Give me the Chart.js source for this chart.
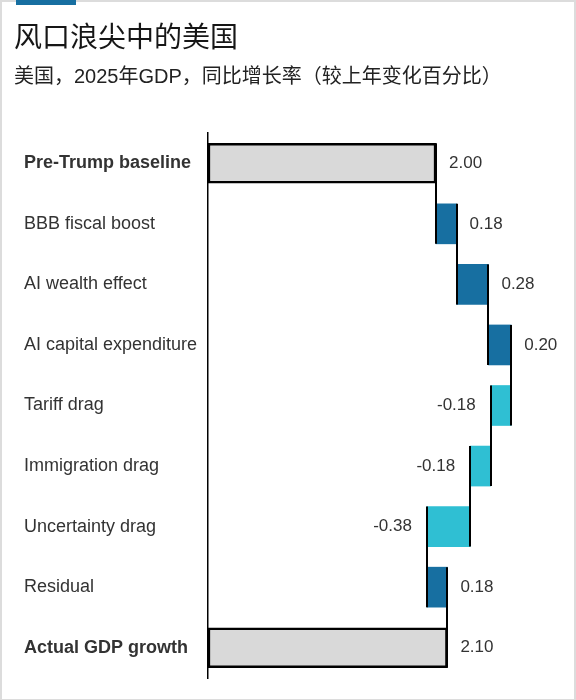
<!DOCTYPE html>
<html>
<head>
<meta charset="utf-8">
<script src="https://cdn.jsdelivr.net/npm/chart.js@4"></script>
<style>
  body { margin: 0; background: #fff; font-family: Arial, "Liberation Sans", "Noto Sans CJK SC", sans-serif; }
  #frame { position: absolute; left: 0; top: 0; width: 572px; height: 697px; border: 2px solid #dcdcdc; }
  #accent { position: absolute; left: 16px; top: 0; width: 60px; height: 5px; background: #176fa1; }
  #title { position: absolute; left: 14px; top: 17px; font-size: 28px; line-height: 36px; color: #161616; font-family: "Noto Sans CJK SC", sans-serif; }
  #subtitle { position: absolute; left: 14px; top: 62px; font-size: 20px; line-height: 28px; color: #222; font-family: Arial, "Liberation Sans", "Noto Sans CJK SC", sans-serif; }
  #wrap { position: absolute; left: 0; top: 0; width: 576px; height: 700px; }
</style>
</head>
<body>
<div id="frame"></div>
<div id="wrap"><canvas id="waterfall"></canvas></div>
<div id="accent"></div>
<div id="title">风口浪尖中的美国</div>
<div id="subtitle">美国，2025年GDP，同比增长率（较上年变化百分比）</div>
<script>
// chart data
const categories = ['Pre-Trump baseline', 'BBB fiscal boost', 'AI wealth effect', 'AI capital expenditure',
    'Tariff drag', 'Immigration drag', 'Uncertainty drag', 'Residual', 'Actual GDP growth'];
const changes = [2.00, 0.18, 0.28, 0.20, -0.18, -0.18, -0.38, 0.18, 2.10];
const isTotal = [true, false, false, false, false, false, false, false, true];

const posColor = '#176fa1';
const negColor = '#2fbfd3';
const totalColor = '#d9d9d9';

// build floating bars [start, end] from the changes
let running = 0;
const ranges = [];
const ends = [];
for (let i = 0; i < changes.length; i++) {
    if (isTotal[i]) {
        ranges.push([0, changes[i]]);
        running = changes[i];
    } else {
        ranges.push([running, running + changes[i]]);
        running += changes[i];
    }
    ends.push(running);
}

const barColors = changes.map((v, i) => isTotal[i] ? totalColor : (v >= 0 ? posColor : negColor));

// vertical connectors + value labels
const waterfallExtras = {
    id: 'waterfallExtras',
    afterDatasetsDraw(chart) {
        const ctx = chart.ctx;
        const xScale = chart.scales.x;
        const bars = chart.getDatasetMeta(0).data;
        ctx.save();
        ctx.strokeStyle = '#000';
        ctx.lineWidth = 2;
        for (let i = 0; i < bars.length - 1; i++) {
            const x = Math.round(xScale.getPixelForValue(ends[i]));
            const top = bars[i].y - bars[i].height / 2;
            const bottom = bars[i + 1].y + bars[i + 1].height / 2;
            ctx.beginPath();
            ctx.moveTo(x, top);
            ctx.lineTo(x, bottom);
            ctx.stroke();
        }
        ctx.fillStyle = '#333';
        ctx.font = '17px Arial, "Liberation Sans", sans-serif';
        ctx.textBaseline = 'middle';
        bars.forEach((bar, i) => {
            const text = changes[i].toFixed(2);
            const endPx = xScale.getPixelForValue(ranges[i][1]);
            if (changes[i] >= 0) {
                ctx.textAlign = 'left';
                ctx.fillText(text, endPx + 13, bar.y);
            } else {
                ctx.textAlign = 'right';
                ctx.fillText(text, endPx - 15, bar.y);
            }
        });
        ctx.restore();
    }
};

new Chart(document.getElementById('waterfall'), {
    type: 'bar',
    data: {
        labels: categories,
        datasets: [{
            data: ranges,
            backgroundColor: barColors,
            borderColor: '#000',
            borderWidth: isTotal.map(t => t ? 2.5 : 0),
            borderSkipped: false,
            barThickness: 40
        }]
    },
    options: {
        indexAxis: 'y',
        responsive: true,
        maintainAspectRatio: false,
        animation: false,
        layout: { padding: { left: 24, right: 26, top: 133, bottom: 22 } },
        plugins: {
            legend: { display: false },
            tooltip: { enabled: false }
        },
        scales: {
            x: {
                display: false,
                min: 0,
                max: 3
            },
            y: {
                grid: { display: false },
                border: { display: true, color: '#000', width: 1.5 },
                ticks: {
                    crossAlign: 'far',
                    color: '#333',
                    padding: 0,
                    font: (c) => ({
                        family: 'Arial, "Liberation Sans", sans-serif',
                        size: 18,
                        weight: isTotal[c.index] ? 'bold' : 'normal'
                    })
                },
                afterFit(scale) {
                    scale.width = 184;
                }
            }
        }
    },
    plugins: [waterfallExtras]
});
</script>
</body>
</html>
